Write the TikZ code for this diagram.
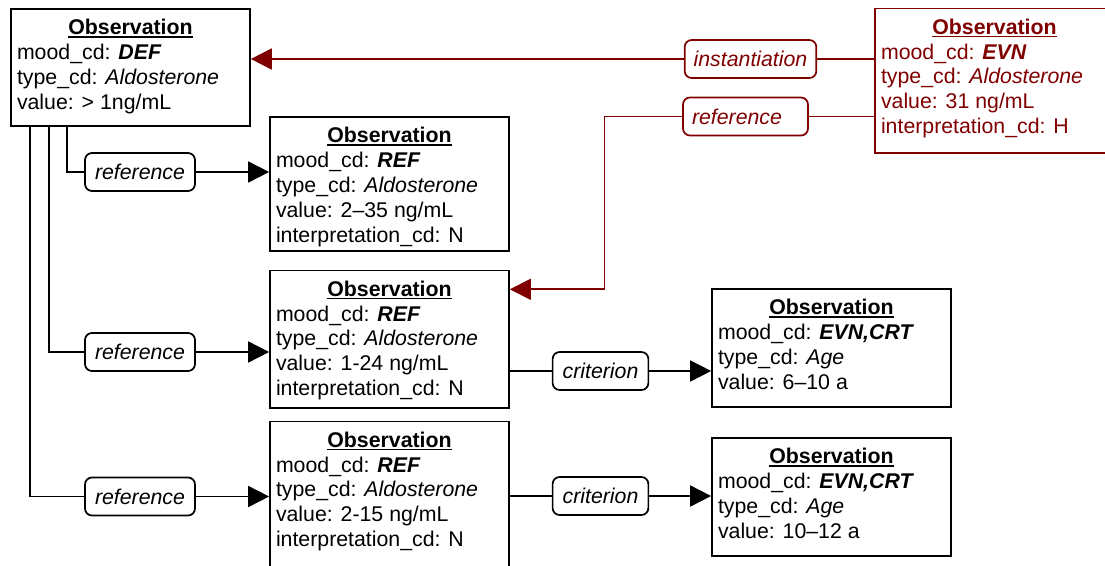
\documentclass[tikz,border=0pt]{standalone}
\usepackage{fontspec}
\setmainfont{Liberation Sans}
\usetikzlibrary{arrows.meta}
\definecolor{evnred}{HTML}{800000}

% fixed-size body of an Observation box: underlined bold title, then left-aligned lines
\newlength\obsw
\setlength\obsw{239pt}
\newcommand\obshead{\leavevmode\setbox0\hbox{\bfseries Observation}\rlap{\rule[-2.8pt]{\wd0}{1.6pt}}\box0}
\newcommand\obsbody[2]{%
  \parbox[c][#1][t]{\obsw}{%
    \fontsize{21.3pt}{24.8pt}\selectfont\lineskiplimit=-50pt
    \vspace*{10.4pt}%
    {\centering\obshead\par}%
    \leftskip=6pt\relax #2\par}}

\tikzset{
  obs/.style={draw, rectangle, line width=1.7pt, inner sep=0pt},
  lab/.style={draw, line width=1.7pt, rounded corners=7pt, fill=white,
    inner xsep=10pt, minimum height=38pt, text height=15pt, text depth=0pt,
    font=\fontsize{21.3pt}{24pt}\selectfont\itshape},
  conn/.style={line width=1.8pt},
  arr/.style={conn, -{Triangle[length=21pt,width=21pt]}},
}

\begin{document}
\begin{tikzpicture}[x=1pt,y=-1pt]
\useasboundingbox (0,0) rectangle (1105,565);
\clip (0,0) rectangle (1105,565);

% observation boxes
\node[obs] (def) at (130.5,67.5) {\obsbody{117pt}{%
  mood\_cd: \textbf{\textit{DEF}}\\
  type\_cd: \textit{Aldosterone}\\
  value: > 1ng/mL}};

\node[obs, draw=evnred, text=evnred] (evn) at (994.5,80.75) {\obsbody{144.5pt}{%
  mood\_cd: \textbf{\textit{EVN}}\\
  type\_cd: \textit{Aldosterone}\\
  value: 31 ng/mL\\
  interpretation\_cd: H}};

\node[obs] (ref1) at (389.5,184) {\obsbody{134pt}{%
  mood\_cd: \textbf{\textit{REF}}\\
  type\_cd: \textit{Aldosterone}\\
  value: 2–35 ng/mL\\
  interpretation\_cd: N}};

\node[obs] (ref2) at (389.5,339.25) {\obsbody{137.5pt}{%
  mood\_cd: \textbf{\textit{REF}}\\
  type\_cd: \textit{Aldosterone}\\
  value: 1-24 ng/mL\\
  interpretation\_cd: N}};

\node[obs] (ref3) at (389.5,496.5) {\obsbody{150pt}{%
  mood\_cd: \textbf{\textit{REF}}\\
  type\_cd: \textit{Aldosterone}\\
  value: 2-15 ng/mL\\
  interpretation\_cd: N}};

\node[obs] (crt1) at (831.5,348) {\obsbody{118pt}{%
  mood\_cd: \textbf{\textit{EVN,CRT}}\\
  type\_cd: \textit{Age}\\
  value: 6–10 a}};

\node[obs] (crt2) at (831.5,497) {\obsbody{118pt}{%
  mood\_cd: \textbf{\textit{EVN,CRT}}\\
  type\_cd: \textit{Age}\\
  value: 10–12 a}};

% relationship labels
\node[lab, draw=evnred, text=evnred, inner xsep=9pt] (labI) at (750.5,59) {instantiation};
\node[lab, draw=evnred, text=evnred, inner xsep=9pt, text width=107pt, align=left] (labR) at (745.5,116.5) {reference};
\node[lab] (lab1) at (140,172) {reference};
\node[lab] (lab2) at (140,352) {reference};
\node[lab] (lab3) at (140,496.5) {reference};
\node[lab] (labC1) at (600.5,371) {criterion};
\node[lab] (labC2) at (600.5,496) {criterion};

% instantiation of the definition
\draw[conn, evnred] (evn.west |- labI.east) -- (labI.east);
\draw[arr, evnred] (labI.west) -- (def.east |- labI.west);

% reference from the event to the second range
\coordinate (bendR) at (604.5,289.3);
\draw[conn, evnred] (evn.west |- labR.east) -- (labR.east);
\draw[arr, evnred] (labR.west) -| (bendR) -- (ref2.east |- bendR);

% references from the definition to the three ranges
\draw[conn] ([xshift=57pt]def.south west) |- (lab1.west);
\draw[arr] (lab1.east) -- (ref1.west |- lab1.east);
\draw[conn] ([xshift=39pt]def.south west) |- (lab2.west);
\draw[arr] (lab2.east) -- (ref2.west |- lab2.east);
\draw[conn] ([xshift=20pt]def.south west) |- (lab3.west);
\draw[arr] (lab3.east) -- (ref3.west |- lab3.east);

% criteria of the ranges
\draw[conn] (ref2.east |- labC1.west) -- (labC1.west);
\draw[arr] (labC1.east) -- (crt1.west |- labC1.east);
\draw[conn] (ref3.east |- labC2.west) -- (labC2.west);
\draw[arr] (labC2.east) -- (crt2.west |- labC2.east);
\end{tikzpicture}
\end{document}
